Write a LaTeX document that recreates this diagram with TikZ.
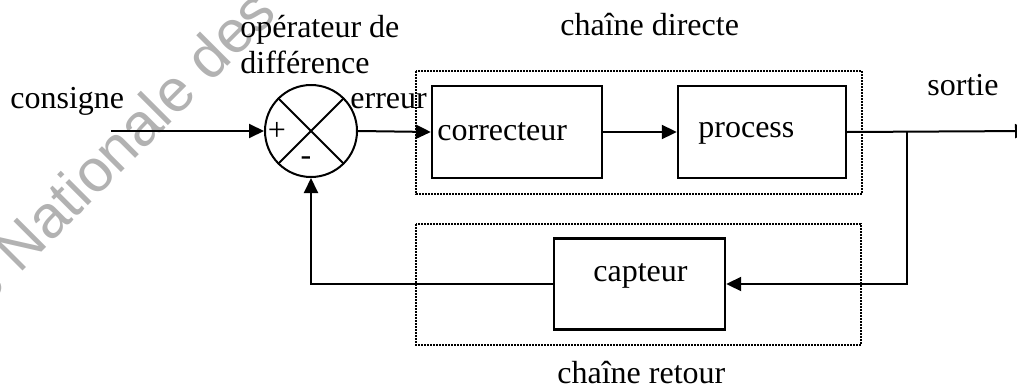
\documentclass[tikz,border=0pt]{standalone}
\usepackage{fontspec}
\setmainfont{Liberation Serif}
\newfontfamily\wmfont{Liberation Sans}
\usetikzlibrary{arrows.meta}

\tikzset{
  wire/.style={line width=1pt, -{Triangle[length=7.5pt,width=7pt]}},
  plain/.style={line width=1pt},
  block/.style={draw, line width=1.2pt, rectangle, inner sep=0pt},
  group/.style={line width=1pt, dash pattern=on 0.8pt off 0.7pt},
  lbl/.style={inner sep=0pt, anchor=base west, font=\fontsize{16}{19}\selectfont},
  sign/.style={inner sep=0pt, font=\fontsize{16}{19}\selectfont},
}

\begin{document}
\begin{tikzpicture}[x=0.5pt, y=-0.5pt]
  \path[use as bounding box, clip] (0,0) rectangle (1017,391);

  % faint background stamp
  \node[inner sep=0pt, anchor=base west, rotate=45, text=black!30,
        font=\wmfont\fontsize{30}{32}\selectfont] (stamp) at (-16,310) {e Nationale des};

  % dotted frames around the two chains
  \draw[group] (416,71) rectangle (862,194);
  \draw[group] (416,224) rectangle (861,345);

  % comparator
  \node[draw, circle, line width=1pt, minimum size=46pt, inner sep=0pt] (sum) at (311,131) {};
  \draw[plain] (sum.north west) -- (sum.south east);
  \draw[plain] (sum.north east) -- (sum.south west);
  \node[sign] (plus) at (277,131) {+};
  \node[sign] (minus) at (306,161) {-};

  % blocks
  \node[block, minimum width=85pt, minimum height=46pt] (corr) at (517,132) {};
  \node[block, minimum width=84pt, minimum height=46pt] (proc) at (762,132) {};
  \node[block, minimum width=85.5pt, minimum height=45.5pt] (capt) at (639.5,284) {};

  % labels
  \node[lbl] (tcons) at (10,108) {consigne};
  \node[lbl] (top1) at (240,37) {opérateur de};
  \node[lbl] (top2) at (240,73) {différence};
  \node[lbl] (terr) at (350,108) {erreur};
  \node[lbl] (tdir) at (560,35) {chaîne directe};
  \node[lbl] (tsort) at (927,95) {sortie};
  \node[lbl] (tcorr) at (437,140.5) {correcteur};
  \node[lbl] (tproc) at (698,137) {process};
  \node[lbl] (tcapt) at (593,281.5) {capteur};
  \node[lbl] (tret) at (557,383) {chaîne retour};

  % signal path
  \coordinate (in) at (111,131);
  \coordinate (out) at (1030,131);
  \coordinate (br) at (907,131);

  \draw[wire] (in) -- (sum.west);
  \draw[wire] (sum.east) -- (corr.west);
  \draw[wire] (corr.east) -- (proc.west);
  \draw[wire] (proc.east) -- (out);
  \draw[wire] (br) |- (capt.east);
  \draw[wire] (capt.west) -| (sum.south);
\end{tikzpicture}
\end{document}
